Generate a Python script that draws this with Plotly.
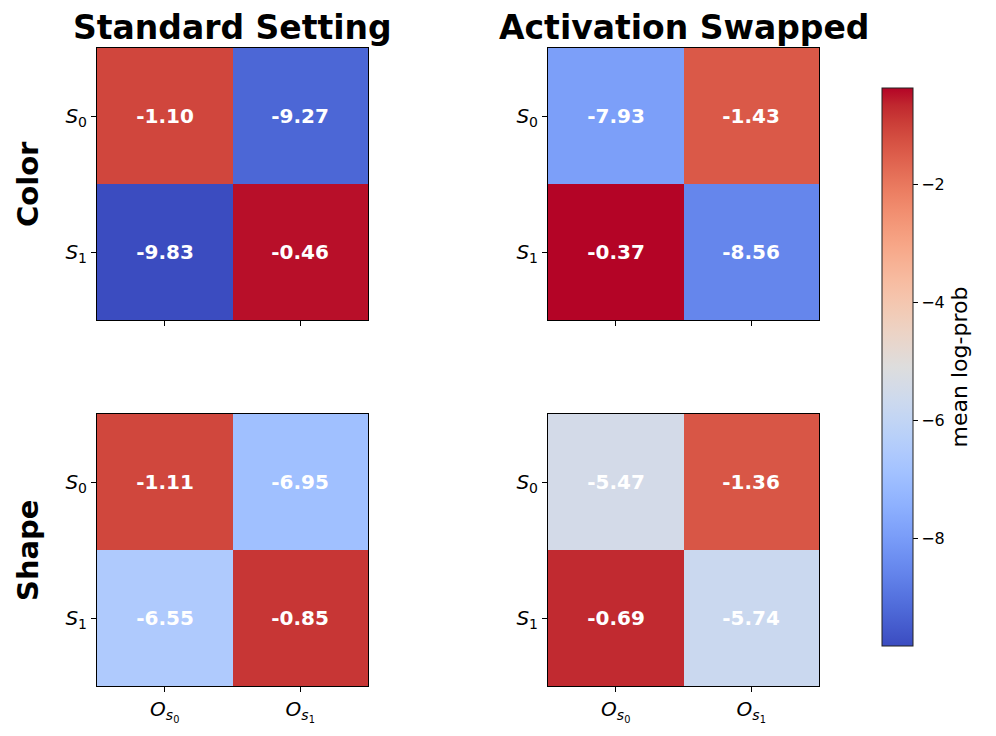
import plotly.graph_objects as go

rows = ["S0", "S1"]
cols = ["Os0", "Os1"]
row_labels = ["<i>S</i><sub>0</sub>", "<i>S</i><sub>1</sub>"]
col_labels = ["<i>O</i><sub><i>s</i><sub>0</sub></sub>", "<i>O</i><sub><i>s</i><sub>1</sub></sub>"]

color_standard = [[-1.10, -9.27], [-9.83, -0.46]]
color_swapped = [[-7.93, -1.43], [-0.37, -8.56]]
shape_standard = [[-1.11, -6.95], [-6.55, -0.85]]
shape_swapped = [[-5.47, -1.36], [-0.69, -5.74]]

col_titles = ["Standard Setting", "Activation Swapped"]
row_titles = ["Color", "Shape"]
cbar_title = "mean log-prob"
cbar_ticks = [-2, -4, -6, -8]

coolwarm_rgb = [
    (59, 76, 192), (68, 90, 204), (77, 104, 215), (87, 117, 225), (98, 130, 234),
    (108, 142, 241), (119, 154, 247), (130, 165, 251), (141, 176, 254), (152, 185, 255),
    (163, 194, 255), (174, 201, 253), (184, 208, 249), (194, 213, 244), (204, 217, 238),
    (213, 219, 230), (221, 221, 221), (229, 216, 209), (236, 211, 197), (241, 204, 184),
    (245, 196, 172), (247, 187, 160), (247, 177, 148), (247, 166, 135), (244, 154, 123),
    (241, 141, 111), (236, 127, 99), (229, 112, 88), (222, 96, 77), (213, 80, 66),
    (203, 62, 56), (192, 40, 47), (180, 4, 38),
]
n = len(coolwarm_rgb) - 1
colorscale = [[i / n, "rgb(%d,%d,%d)" % c] for i, c in enumerate(coolwarm_rgb)]

allvals = [v for m in (color_standard, color_swapped, shape_standard, shape_swapped) for r in m for v in r]
zmin, zmax = min(allvals), max(allvals)

W, H = 996, 736
xdoms = [[97 / W, 368 / W], [548 / W, 819 / W]]
ydoms = [[1 - 320 / H, 1 - 48 / H], [1 - 686 / H, 1 - 414 / H]]

mats = [[color_standard, color_swapped], [shape_standard, shape_swapped]]

fig = go.Figure()
layout = {}
k = 0
for r in range(2):
    for c in range(2):
        k += 1
        xa = "x" if k == 1 else "x%d" % k
        ya = "y" if k == 1 else "y%d" % k
        fig.add_trace(go.Heatmap(
            z=mats[r][c], x=cols, y=rows, xaxis=xa, yaxis=ya,
            colorscale=colorscale, zmin=zmin, zmax=zmax,
            showscale=(k == 1),
            texttemplate="%{z:.2f}",
            textfont=dict(color="white", size=20, family="DejaVu Sans", weight="bold"),
            hoverinfo="skip",
            colorbar=dict(
                x=882 / W, xanchor="left", xref="paper", xpad=0, ypad=0,
                y=1 - 367 / H, yanchor="middle",
                len=558, lenmode="pixels", thickness=31, thicknessmode="pixels",
                outlinecolor="#222", outlinewidth=1,
                tickvals=cbar_ticks, ticks="outside", ticklen=5, tickcolor="black",
                tickfont=dict(size=16, family="DejaVu Sans", color="black"),
                title=dict(text=cbar_title, side="right",
                           font=dict(size=22, family="DejaVu Sans", color="black")),
            ),
        ))
        axname_x = "xaxis" if k == 1 else "xaxis%d" % k
        axname_y = "yaxis" if k == 1 else "yaxis%d" % k
        layout[axname_x] = dict(
            domain=xdoms[c], anchor=ya, showline=True, mirror=True, linecolor="black",
            linewidth=1, ticks="outside", ticklen=5, tickcolor="black",
            showticklabels=(r == 1), tickvals=cols, ticktext=col_labels,
            tickfont=dict(size=20, family="DejaVu Sans", color="black"),
            showgrid=False, zeroline=False, fixedrange=True,
        )
        layout[axname_y] = dict(
            domain=ydoms[r], anchor=xa, showline=True, mirror=True, linecolor="black",
            linewidth=1, ticks="outside", ticklen=5, tickcolor="black",
            tickvals=rows, ticktext=row_labels, autorange="reversed",
            tickfont=dict(size=20, family="DejaVu Sans", color="black"),
            showgrid=False, zeroline=False, fixedrange=True,
        )

annotations = []
for c, t in enumerate(col_titles):
    annotations.append(dict(
        text="<b>%s</b>" % t, x=(xdoms[c][0] + xdoms[c][1]) / 2, y=1 - 27 / H,
        xref="paper", yref="paper", showarrow=False, xanchor="center", yanchor="middle",
        font=dict(size=33, family="DejaVu Sans", color="black"),
    ))
for r, t in enumerate(row_titles):
    annotations.append(dict(
        text="<b>%s</b>" % t, x=28 / W, y=(ydoms[r][0] + ydoms[r][1]) / 2,
        xref="paper", yref="paper", showarrow=False, xanchor="center", yanchor="middle",
        textangle=-90, font=dict(size=29, family="DejaVu Sans", color="black"),
    ))

fig.update_layout(
    width=W, height=H, margin=dict(l=0, r=0, t=0, b=0),
    paper_bgcolor="white", plot_bgcolor="white",
    annotations=annotations, **layout,
)
fig.write_html("out.html", config={"displayModeBar": False},
               post_script="document.body.style.margin='0px';")
